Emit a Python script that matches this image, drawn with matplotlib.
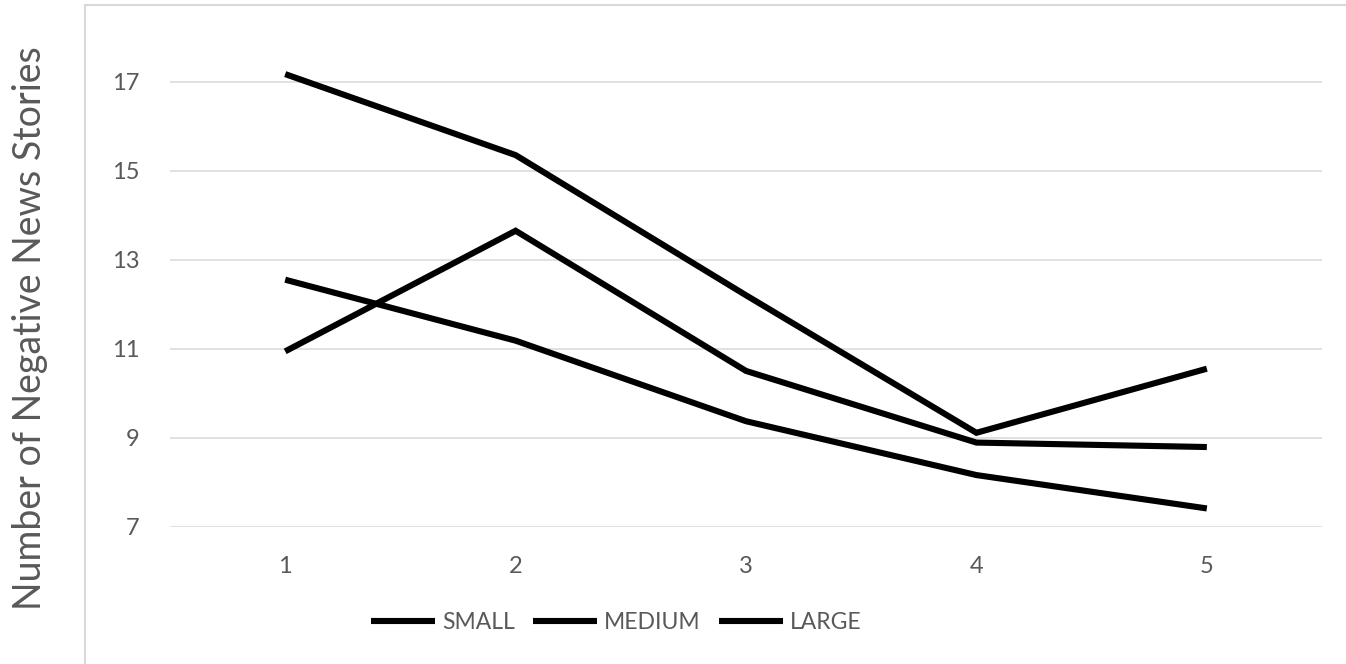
import matplotlib
matplotlib.use("Agg")
import matplotlib.pyplot as plt
from matplotlib.patches import Rectangle

plt.rcParams['font.family'] = ['Lato', 'DejaVu Sans']

periods = [1, 2, 3, 4, 5]
small = [17.17, 15.35, 12.2, 9.11, 10.55]
medium = [10.94, 13.65, 10.5, 8.89, 8.79]
large = [12.55, 11.18, 9.37, 8.16, 7.41]
series_names = ['SMALL', 'MEDIUM', 'LARGE']
y_ticks = [7, 9, 11, 13, 15, 17]

gray_text = '#595959'

fig = plt.figure(figsize=(13.46, 6.64), dpi=100)
ax = fig.add_axes([0.1263, 0.2068, 0.8559, 0.7372])

for vals, name in zip([small, medium, large], series_names):
    ax.plot(periods, vals, color='black', linewidth=4.4, label=name,
            solid_joinstyle='miter', solid_capstyle='butt')

ax.set_xlim(0.5, 5.5)
ax.set_ylim(7, 18)
ax.set_yticks(y_ticks)
ax.set_xticks(periods)
ax.grid(axis='y', color='#d9d9d9', linewidth=1.1)
ax.set_axisbelow(True)
for s in ax.spines.values():
    s.set_visible(False)
ax.tick_params(axis='both', length=0, labelsize=17, labelcolor=gray_text)
ax.tick_params(axis='y', pad=22)
ax.tick_params(axis='x', pad=21)

fig.text(30 / 1346, 0.506, 'Number of Negative News Stories', rotation=90,
         ha='center', va='center', fontsize=27, color=gray_text)

fig.legend(loc='center', bbox_to_anchor=(0.458, 0.062), ncol=3, frameon=False,
           fontsize=16.5, handlelength=2.8, handletextpad=0.3, columnspacing=0.8,
           labelcolor=gray_text)

# outer chart border
fig.patches.append(Rectangle((85 / 1346, -0.1), 1.2, 1 - 5 / 664 + 0.1,
                             transform=fig.transFigure, fill=False,
                             edgecolor='#d9d9d9', linewidth=1.5))

fig.savefig('out.png', dpi=100)
